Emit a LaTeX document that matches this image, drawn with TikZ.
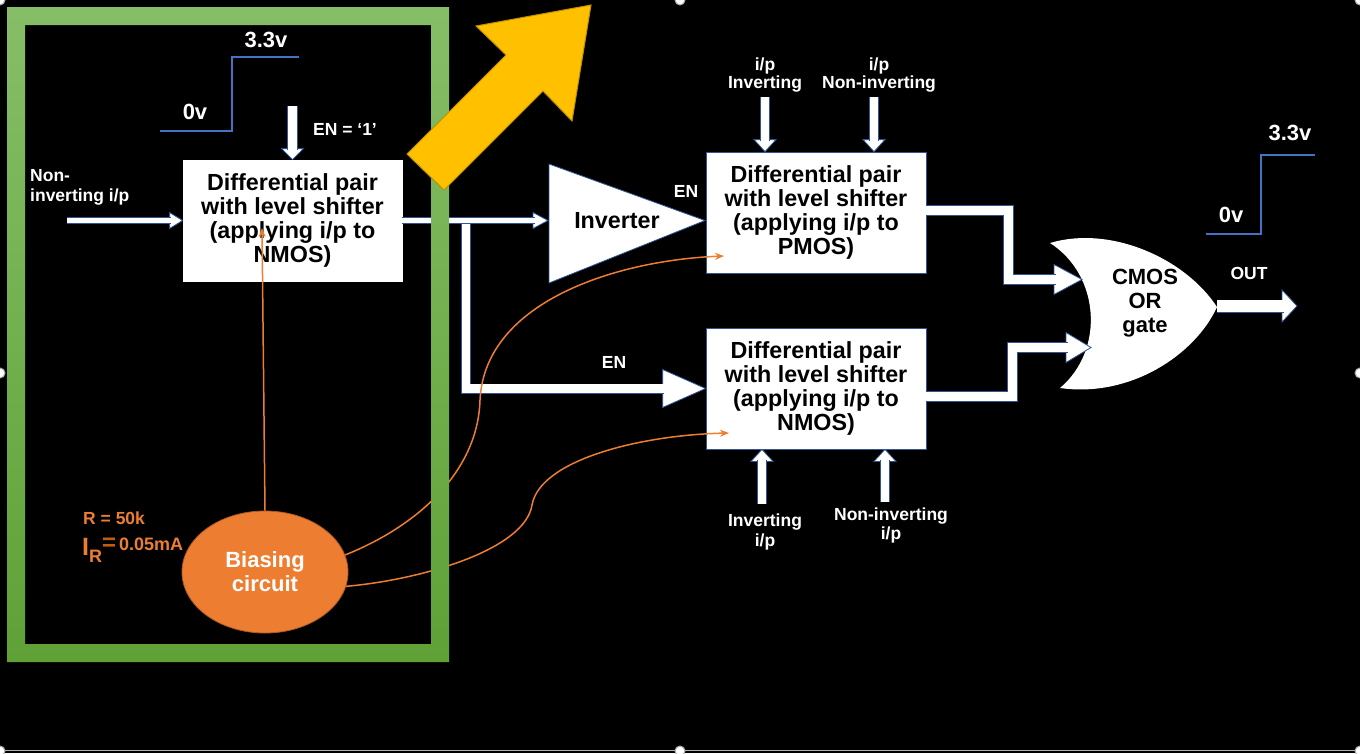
\documentclass[tikz,border=0pt]{standalone}
\usepackage{fontspec}
\setmainfont{Liberation Sans}
\usetikzlibrary{shapes.geometric,arrows.meta}
\definecolor{frameTop}{HTML}{86BE67}
\definecolor{frameBot}{HTML}{5FA136}
\definecolor{goldF}{HTML}{FFC000}
\definecolor{goldD}{HTML}{BF9000}
\definecolor{orangeC}{HTML}{ED7D31}
\definecolor{orangeD}{HTML}{AE5A21}
\definecolor{orangeDk}{HTML}{C55A11}
\definecolor{waveBlue}{HTML}{4472C4}
\definecolor{edgeBlue}{HTML}{2F5597}
\newcommand\bhead[4]{\draw[bhd, shift={(#1)}, rotate=#2] (0,0) -- (-#4,-#3) -- (-#4,#3) -- cycle;}
\begin{document}
\begin{tikzpicture}[x=1pt,y=-1pt,
  lab/.style={text=white, inner sep=0pt, align=center, font=\fontsize{17.5}{17.5}\selectfont\bfseries},
  big/.style={text=white, inner sep=0pt, align=center, font=\fontsize{22}{24}\selectfont\bfseries},
  boxsty/.style={draw=edgeBlue, line width=0.8pt, fill=white, minimum width=219pt, minimum height=121pt, inner sep=0pt, align=center, text=black, font=\fontsize{23.3}{24.3}\selectfont\bfseries},
  bshaft/.style={draw=edgeBlue, line width=0.8pt, double=white, double distance=#1, line join=miter},
  bhd/.style={draw=edgeBlue, line width=0.8pt, fill=white, line join=miter},
  wave/.style={draw=waveBlue, line width=2pt},
  oline/.style={draw=orangeC, line width=1.5pt, -{Stealth[length=9pt,width=7pt]}},
  handle/.style={draw=gray!70, fill=white, line width=1pt}]
% background
\fill[black] (0,0) rectangle (1360,753);
\useasboundingbox (0,0) rectangle (1360,753);

% waveforms
\draw[wave] (160,131) -- (232,131) -- (232,57) -- (299,57);
\node[big] (w1hi) at (266,40) {3.3v};
\node[big] (w1lo) at (195,112) {0v};
\draw[wave] (1206,234) -- (1261,234) -- (1261,155) -- (1315,155);
\node[big] (w2hi) at (1290,133) {3.3v};
\node[big] (w2lo) at (1231,215) {0v};

% labels
\node[lab] (en1) at (345,129) {EN = ‘1’};
\node[lab, anchor=west, align=left, font=\fontsize{17.5}{20}\selectfont\bfseries] (nin) at (30,187) {Non-\\inverting i/p};
\node[lab] (l2a) at (765,75) {i/p\\Inverting};
\node[lab] (l2b) at (879,75) {i/p\\Non-inverting};
\node[lab] (en2) at (686,191) {EN};
\node[lab] (en3) at (614,362) {EN};
\node[lab, font=\fontsize{17.5}{20}\selectfont\bfseries] (l3a) at (765,532) {Inverting\\i/p};
\node[lab, font=\fontsize{17.5}{19}\selectfont\bfseries] (l3b) at (891,525.5) {Non-inverting\\i/p};
\node[lab] (outl) at (1249,273) {OUT};

% boxes
\node[boxsty, draw=white] (b1) at (292.5,220.5) {Differential pair\\with level shifter\\(applying i/p to\\NMOS)};
\node[boxsty, minimum width=220pt] (b2) at (816,212.5) {Differential pair\\with level shifter\\(applying i/p to\\PMOS)};
\node[boxsty, minimum width=220pt] (b3) at (816,388.5) {Differential pair\\with level shifter\\(applying i/p to\\NMOS)};

% inverter
\draw[draw=edgeBlue, line width=0.8pt, fill=white] (549,164) -- (705,220.5) -- (549,283) -- cycle;
\node[text=black, inner sep=0pt, font=\fontsize{23.3}{24}\selectfont\bfseries] (inv) at (617,220.5) {Inverter};
\coordinate (invin) at (548,220.5);

% OR gate
\fill[white] (1050,243) .. controls (1110,225) and (1185,258) .. (1217,307)
  .. controls (1195,355) and (1130,398) .. (1060,388)
  .. controls (1105,350) and (1100,275) .. (1050,243) -- cycle;
\node[text=black, inner sep=0pt, align=center, font=\fontsize{22}{24}\selectfont\bfseries] (gate) at (1145,303) {CMOS\\OR\\gate};
\coordinate (or1) at (1082,279.5);
\coordinate (or2) at (1091,347.5);
\coordinate (orout) at (1217,306);
\coordinate (outtip) at (1297,306);

% block arrows
\bhead{b1.west}{0}{8}{13}
\draw[bshaft=5.4pt] (67,220.5) -- ([xshift=-11.5pt]b1.west);
\bhead{b1.north}{-90}{11}{11}
\draw[bshaft=9.4pt] (292.5,106) -- ([yshift=9.5pt]b1.north);

\bhead{b3.west}{0}{19}{43}
\draw[bshaft=8.4pt] (466,224) |- ([xshift=-41.5pt]b3.west);
\bhead{invin}{0}{8}{15}
\draw[bshaft=5.4pt] (b1.east) -- ([xshift=-13.5pt]invin);

\coordinate (t2a) at ([xshift=-51pt]b2.north);
\coordinate (t2b) at ([xshift=58pt]b2.north);
\bhead{t2a}{-90}{11}{12}
\draw[bshaft=8.4pt] (765,97) -- ([yshift=10.5pt]t2a);
\bhead{t2b}{-90}{11}{12}
\draw[bshaft=8.4pt] (874,97) -- ([yshift=10.5pt]t2b);

\coordinate (t3a) at ([xshift=-54pt]b3.south);
\coordinate (t3b) at ([xshift=69pt]b3.south);
\bhead{t3a}{90}{11}{12}
\draw[bshaft=8.4pt] (762,504) -- ([yshift=-10.5pt]t3a);
\bhead{t3b}{90}{11}{12}
\draw[bshaft=8.4pt] (885,502) -- ([yshift=-10.5pt]t3b);

\bhead{or1}{0}{15}{28}
\draw[bshaft=9.4pt] ([yshift=2pt]b2.east) -| (1008.5,279.5) -- ([xshift=-26.5pt]or1);
\bhead{or2}{0}{15}{25}
\draw[bshaft=9.4pt] ([yshift=-8pt]b3.east) -| (1012.5,347.5) -- ([xshift=-23.5pt]or2);
\bhead{outtip}{0}{16}{15}
\draw[bshaft=11.4pt] (orout) -- ([xshift=-13.5pt]outtip);

% biasing circuit
\node[ellipse, draw=orangeD, line width=0.8pt, fill=orangeC, minimum width=166pt, minimum height=122pt, inner sep=0pt, text=white, align=center, font=\fontsize{22}{24}\selectfont\bfseries] (bias) at (265,572) {Biasing\\circuit};
\node[anchor=base west, inner sep=0pt, text=orangeC, font=\fontsize{17.5}{17.5}\selectfont\bfseries] (rlab) at (83,524) {R = 50k};
\node[anchor=base west, inner sep=0pt, text=orangeC, font=\fontsize{18}{18}\selectfont\bfseries] (irlab) at (82,550) {\raisebox{-5pt}{\fontsize{25}{25}\selectfont I}\raisebox{-12pt}{R}{\color{orangeDk}\fontsize{24}{24}\selectfont=}\,0.05mA};

\coordinate (p1) at (262,228);
\coordinate (p2) at (724,256);
\coordinate (p3) at (729,433);
\draw[oline] (bias.north) -- (p1);
\draw[oline] (bias.12) .. controls (420,525) and (478,470) .. (480,400) .. controls (485,300) and (620,260) .. (p2);
\draw[oline] (bias.-10) .. controls (420,580) and (525,550) .. (532,505) .. controls (540,460) and (640,435) .. (p3);

% green frame
\shade[top color=frameTop, bottom color=frameBot, even odd rule] (7,7) rectangle (449,662) (25,25) rectangle (431,644);

% yellow arrow
\draw[fill=goldF, draw=goldD, line width=1pt, line join=miter] (407,154) -- (506,55) -- (476,26) -- (591,5) -- (572,121) -- (543,91) -- (444,190) -- cycle;

% slide frame marks
\draw[gray!60, line width=1.5pt] (0,750.5) -- (1360,750.5);
\foreach \p in {(0,0),(680,0),(1360,0),(0,373),(1360,373),(0,751),(680,751),(1360,751)}
  \draw[handle] \p circle (5pt);
\end{tikzpicture}
\end{document}
